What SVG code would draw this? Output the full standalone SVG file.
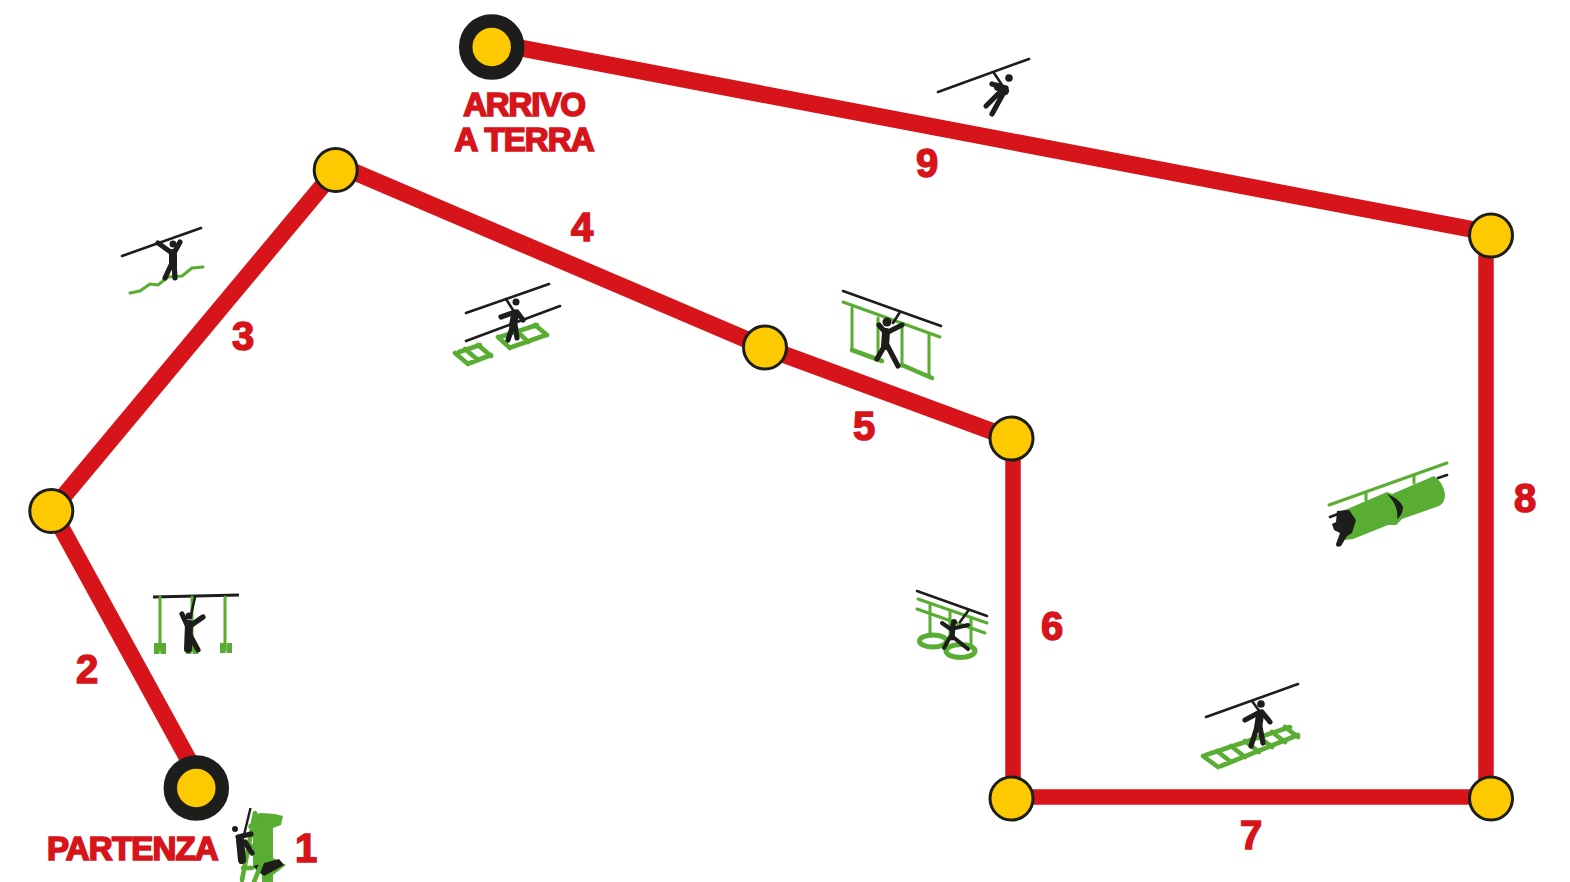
<svg xmlns="http://www.w3.org/2000/svg" width="1570" height="882" viewBox="0 0 1570 882">
<style>
.c{stroke:#d7141a;stroke-width:15.5;fill:none}
.d{stroke:#d7141a;stroke-width:17;fill:none}
.n{fill:#fdc900;stroke:#1d1d1b;stroke-width:3}
.s{fill:#fdc900;stroke:#1d1d1b;stroke-width:13.5}
.t{font-family:"Liberation Sans",Arial,sans-serif;font-weight:700;fill:#d7141a;text-anchor:middle}
.num{font-size:40px;stroke:#d7141a;stroke-width:1.5}
.lab{font-size:33px;stroke:#d7141a;stroke-width:1.7}
.k{stroke:#1d1d1b;stroke-width:2.6;fill:none;stroke-linecap:round}
.g{stroke:#58ad32;stroke-width:3;fill:none;stroke-linecap:round;stroke-linejoin:round}
.g3{stroke:#58ad32;stroke-width:4.6;fill:none;stroke-linecap:round;stroke-linejoin:round}
.b{stroke:#1d1d1b;stroke-width:5.2;fill:none;stroke-linecap:round;stroke-linejoin:round}
.bt{stroke:#1d1d1b;stroke-width:8;fill:none;stroke-linecap:round;stroke-linejoin:round}
.h{fill:#1d1d1b}
.gf{fill:#58ad32}
</style>
<g id="connectors">
<path class="d" d="M57 520L204 788"/>
<path class="d" d="M51.3 511L335.700 170"/>
<path class="d" d="M335.700 164L765 347.500"/>
<path class="d" d="M765 347.500L1011.500 438.500"/>
<path class="c" d="M1013 438V798"/>
<path class="c" d="M1012 797H1491"/>
<path class="c" d="M1486 235V798"/>
<path class="d" d="M491.700 42.600L1491 233"/>
</g>
<g id="node-start"><circle class="s" cx="196.300" cy="788" r="26"/></g>
<g id="node-2"><circle class="n" cx="51.300" cy="511" r="21.500"/></g>
<g id="node-3"><circle class="n" cx="335.700" cy="170" r="21.500"/></g>
<g id="node-4"><circle class="n" cx="765" cy="347.500" r="21.500"/></g>
<g id="node-5"><circle class="n" cx="1011.500" cy="438.500" r="21.500"/></g>
<g id="node-6"><circle class="n" cx="1011.500" cy="798.500" r="21.500"/></g>
<g id="node-7"><circle class="n" cx="1491" cy="798.500" r="21.500"/></g>
<g id="node-8"><circle class="n" cx="1491" cy="235.500" r="21.500"/></g>
<g id="node-end"><circle class="s" cx="491.700" cy="47" r="26"/></g>

<g id="labels">
<text class="t num" x="87" y="683">2</text>
<text class="t num" x="243" y="350">3</text>
<text class="t num" x="582" y="241">4</text>
<text class="t num" x="864" y="440">5</text>
<text class="t num" x="1052" y="640">6</text>
<text class="t num" x="1251" y="849">7</text>
<text class="t num" x="1525" y="512">8</text>
<text class="t num" x="927" y="177">9</text>
<text class="t num" x="306" y="862">1</text>
<text class="t lab" x="132.500" y="860" letter-spacing="-0.8">PARTENZA</text>
<text class="t lab" x="524" y="116" letter-spacing="-1.100">ARRIVO</text>
<text class="t lab" x="524" y="151" letter-spacing="-0.900">A TERRA</text>
</g>

<g id="icon-1">
<path class="gf" d="M254 814L262 813L275 814L283 816L281 825L273 828V858L286 865L273 875V882H262V875L253 867V818Z"/>
<path class="h" d="M253 866L279 859L284 865L264 876Z"/>
<path class="g3" d="M255 813L242 880M262 862L254 882M249 826H256M247 846H254M243 868H252"/>
<path d="M250.500 808L243.500 837" stroke="#fff" stroke-width="4.500" fill="none"/>
<path d="M250.500 808L243.500 837" stroke="#1d1d1b" stroke-width="2.400" fill="none"/>
<circle class="h" cx="235" cy="829" r="3"/>
<path class="bt" d="M240 840L242 860"/>
<path class="b" d="M238 837L251 834M245 842L252 853"/>
</g>

<g id="icon-2">
<path d="M153 597L239 595" stroke="#1d1d1b" stroke-width="2.800" fill="none"/>
<path class="g" d="M160 597V650M192 597V650M225 597V650"/>
<path class="gf" d="M154 643h5.500v11h-5.500zM160.500 643h5.500v11h-5.500zM186 645h5.500v9h-5.500zM192.500 645h5.500v9h-5.500zM220 643h5.500v10h-5.500zM226.500 643h5.500v10h-5.500z"/>
<path d="M195 597L191 615" class="k"/>
<circle class="h" cx="189" cy="616" r="3.500"/>
<path class="bt" d="M189 624L188 649"/>
<path class="b" d="M182 614L188 627M203 617L190 626M190 635L198 650"/>
</g>

<g id="icon-3">
<path class="g" d="M130 293L140 291L150 284L158 285L168 277L182 276L192 268L203 267"/>
<path class="k" d="M122 256L201 228"/>
<circle class="h" cx="173" cy="244" r="3.500"/>
<path class="bt" d="M173 253L173 266"/>
<path class="b" d="M158 243L172 253M180 242L174 253M172 263L165 278M174 263L175 278"/>
</g>

<g id="icon-4">
<path class="k" d="M466 313L549 284M466 341L560 306"/>
<path class="g3" d="M459 352L480 345M470 363L491 355M455 353L468 364M465 349L478 360M478 345L491 356M500 337L537 325M512 347L546 335M498 337L510 348M517 331L528 342M535 325L547 335"/>
<circle class="h" cx="516" cy="302" r="3.500"/>
<path class="k" d="M506 299L513 310"/>
<path class="bt" d="M515 315L513 325"/>
<path class="b" d="M501 317L515 312M517 312L523 320M513 325L508 340M515 325L517 338"/>
</g>

<g id="icon-5">
<path class="g" d="M843 302L940 337M852 308V350M878 318V360M902 325V366M929 333V377"/>
<path class="g3" d="M852 350L882 361M902 365L932 378"/>
<path class="k" d="M843 291L941 326"/>
<path class="k" d="M900 312L893 323" stroke-width="3.500"/>
<circle class="h" cx="887" cy="322" r="4.500"/>
<path class="bt" d="M886 332L885 346" stroke-width="10"/>
<path class="b" d="M879 325L885 332M902 325L888 332M885 345L877 359M887 345L898 366" stroke-width="6"/>
</g>

<g id="icon-6">
<path class="g" d="M918 599L987 623M917 609L985 633M930 603V633M950 612V635M971 618V645"/>
<ellipse cx="933" cy="641" rx="13.500" ry="6" fill="none" stroke="#58ad32" stroke-width="5"/>
<ellipse cx="960.500" cy="651" rx="14.500" ry="6.500" fill="none" stroke="#58ad32" stroke-width="5"/>
<path class="k" d="M917 591L987 616M968 611L960 622"/>
<circle class="h" cx="954" cy="622" r="3"/>
<path class="b" d="M953 625L952 638"/>
<path d="M942 623L952 630M968 625L955 628M950 637L944 648M953 637L968 649" stroke="#1d1d1b" stroke-width="4" stroke-linecap="round" fill="none"/>
</g>

<g id="icon-7">
<path class="g3" d="M1206 755L1290 727M1221 766L1298 735M1203 756L1218 767M1217 751L1231 762M1231 746L1245 757M1245 741L1259 752M1259 737L1272 747M1272 732L1285 742M1285 727L1298 737"/>
<path class="k" d="M1206 717L1298 684M1252 701L1260 712"/>
<circle class="h" cx="1261" cy="704" r="3.800"/>
<path class="bt" d="M1260 715L1258 728" stroke-width="9"/>
<path class="b" d="M1245 720L1260 712M1262 712L1270 722M1257 727L1251 746M1260 727L1263 743" stroke-width="5.500"/>
</g>

<g id="icon-8">
<path class="k" d="M1330 517L1346 511M1438 478L1447 475"/>
<path class="g" d="M1329 505L1447 463"/>
<path class="g" d="M1366 500V493M1414 483V476" stroke-width="3.500"/>
<path class="gf" d="M1345 510L1387 492L1392 494L1434 476Q1443 482 1445 494Q1445 503 1439 506L1402 519L1396 525L1388 525L1353 539L1345 540Z"/>
<path class="h" d="M1387 494Q1399 498 1403 507Q1403 515 1397 519Q1399 506 1387 494Z"/>
<path class="h" d="M1337 511L1349 510L1356 520L1352 533L1347 536L1341 546Q1336 548 1336 544L1340 533L1334 530L1332 524L1336 522Z"/>
</g>

<g id="icon-9">
<path class="k" d="M938 92L1029 59M994 73L1002 85"/>
<circle class="h" cx="1009" cy="78" r="3.800"/>
<path class="bt" d="M998 87L1005 91" stroke-width="9"/>
<path class="b" d="M1004 92L992 114M998 94L986 106M992 84L1006 88" stroke-width="5.500"/>
</g>
</svg>
